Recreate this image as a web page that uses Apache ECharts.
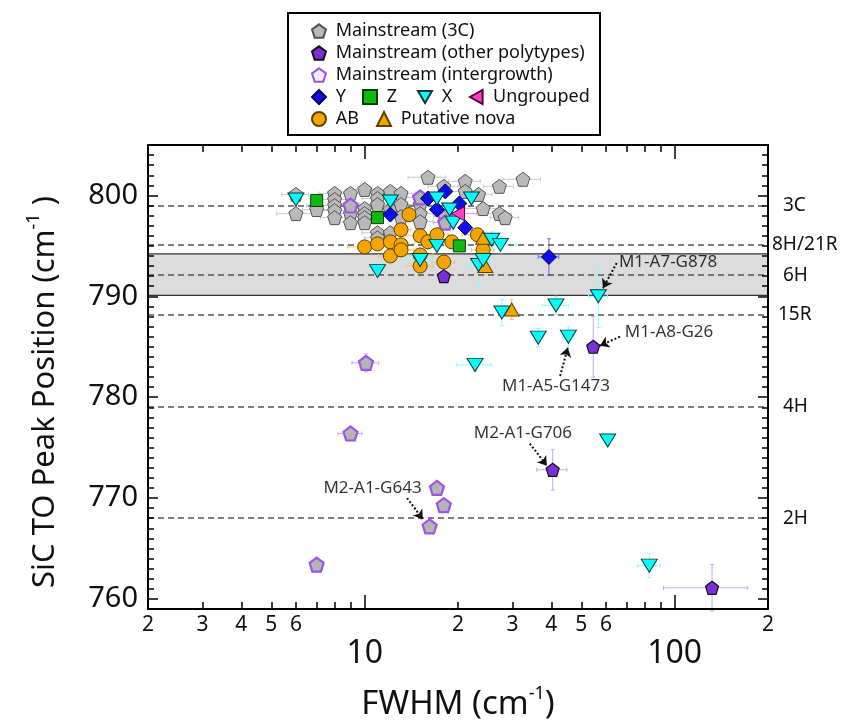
<!DOCTYPE html>
<html>
<head>
<meta charset="utf-8">
<title>SiC TO peak position vs FWHM</title>
<script src="https://cdn.jsdelivr.net/npm/echarts@6.0.0/dist/echarts.min.js"></script>
<style>
  html, body { margin: 0; padding: 0; background: #fff; }
  #chart { width: 847px; height: 721px; }
</style>
</head>
<body>
<div id="chart"></div>
<script>
// each point: [FWHM, peak position, FWHM error, position error]
var mainstream3C = [
  [6.0, 800.1, 0.6, 0], [6.0, 798.2, 0.8, 0], [7.0, 798.6, 0.7, 0],
  [8.0, 800.2, 0.9, 0], [8.0, 799.6, 1.2, 0], [8.0, 799.0, 1.5, 0], [8.0, 798.5, 0.9, 0], [8.0, 797.8, 0.8, 0],
  [9.0, 800.2, 1.0, 0], [9.0, 798.2, 1.2, 0], [9.0, 797.3, 0.8, 0],
  [10.0, 800.6, 1.3, 0], [10.0, 798.7, 1.2, 0], [10.0, 798.2, 1.0, 0], [10.0, 797.8, 1.0, 0], [10.0, 797.3, 1.0, 0],
  [11.0, 800.2, 1.3, 0], [11.0, 799.7, 1.2, 0], [11.0, 799.1, 1.4, 0], [11.0, 796.3, 1.2, 0], [11.0, 795.8, 1.0, 0],
  [12.1, 800.4, 1.4, 0], [12.1, 798.6, 1.0, 0], [12.1, 796.3, 1.3, 0],
  [13.1, 800.2, 1.5, 0], [13.1, 799.1, 1.5, 0], [13.1, 797.9, 1.3, 0],
  [15.1, 799.1, 1.6, 0], [15.1, 798.2, 1.5, 0], [15.1, 797.4, 1.5, 0],
  [16.0, 801.8, 2.2, 0], [18.0, 800.9, 2.0, 0], [21.1, 801.4, 2.5, 0], [21.1, 800.4, 2.0, 0],
  [23.3, 800.1, 2.5, 0], [27.2, 800.9, 3.0, 0], [32.4, 801.6, 4.5, 0],
  [24.1, 798.7, 3.0, 0], [27.2, 798.2, 2.5, 0], [28.4, 797.8, 3.0, 0]
];
var mainstreamOther = [
  [18.0, 792.0, 0, 0], [54.6, 785.0, 1.5, 3.0], [40.4, 772.8, 4.5, 2.0], [132, 761.1, 40, 2.3]
];
var mainstreamInter = [
  [9.0, 799.0, 0.8, 0], [15.1, 799.8, 1.5, 0], [18.2, 797.9, 1.5, 0], [18.2, 797.3, 1.5, 0],
  [10.1, 783.4, 1.0, 0.9], [9.0, 776.4, 0.8, 0], [17.1, 771.0, 0, 0], [18.0, 769.3, 0, 0],
  [16.2, 767.2, 0, 0], [7.0, 763.4, 0, 0]
];
var groupY = [
  [16.0, 799.7, 0, 0], [18.2, 800.4, 0, 0], [20.2, 799.2, 0, 0], [17.1, 798.6, 0, 0],
  [21.1, 796.8, 0, 0], [12.1, 798.1, 0, 0], [39.3, 793.9, 3.0, 1.8]
];
var groupZ = [[7.0, 799.5, 0, 0], [11.0, 797.8, 0, 0], [20.2, 795.0, 0, 0]];
var groupX = [
  [6.0, 799.6, 0, 0], [12.1, 799.4, 0, 0], [17.1, 799.7, 0, 0], [22.1, 799.7, 0, 0],
  [18.8, 798.6, 0, 0], [19.3, 797.3, 0, 0], [17.1, 795.0, 1.5, 0], [25.7, 795.6, 2.0, 0.8],
  [27.4, 795.1, 3.5, 0.8], [15.1, 793.6, 1.5, 1.5], [23.3, 793.1, 2.0, 2.0], [24.1, 793.6, 1.5, 0],
  [11.0, 792.5, 0, 0], [27.7, 788.4, 0, 1.3], [56.7, 790.0, 4.0, 3.1], [41.4, 789.1, 4.0, 0.9],
  [36.3, 785.9, 0, 0.9], [45.4, 786.0, 2.0, 1.0], [22.7, 783.2, 2.9, 0.6], [60.8, 775.7, 0, 0],
  [82.8, 763.3, 7.0, 1.2]
];
var ungrouped = [[20.0, 798.2, 3.0, 0]];
var groupAB = [
  [10.0, 794.9, 1.2, 0], [11.0, 795.2, 1.2, 0], [12.1, 795.4, 1.2, 0], [13.1, 795.1, 1.2, 0],
  [12.1, 794.0, 1.0, 0], [13.1, 794.6, 1.3, 0], [13.1, 796.6, 1.0, 0], [13.9, 798.1, 1.2, 0],
  [15.1, 796.0, 1.5, 0], [15.1, 794.1, 1.5, 0], [15.1, 793.0, 1.5, 1.0], [16.0, 795.4, 1.5, 0],
  [17.1, 796.1, 1.5, 0], [18.0, 793.4, 1.5, 0], [19.1, 795.4, 1.8, 0], [23.1, 796.1, 2.5, 0],
  [24.1, 794.6, 2.0, 0.7]
];
var putativeNova = [[24.1, 795.8, 2.0, 0], [24.5, 793.0, 0, 0.8], [29.8, 788.7, 0, 1.0]];

// polytype reference lines and 6H band
var refNames = ['3C', '8H/21R', '6H', '15R', '4H', '2H'];
var refValues = [799.0, 795.1, 792.1, 788.2, 779.1, 768.0];
var band6H = [790.1, 794.2];

// annotated grains
var annoNames = ['M1-A7-G878', 'M1-A8-G26', 'M1-A5-G1473', 'M2-A1-G706', 'M2-A1-G643'];
var annoText = [[95.2, 793.4], [95.9, 786.4], [41.4, 781.1], [32.4, 776.4], [10.6, 771.0]];
var annoFrom = [[65.0, 793.3], [66.6, 786.0], [42.7, 782.1], [34.1, 775.4], [13.7, 770.0]];
var annoTo = [[58.7, 790.8], [57.4, 785.1], [45.2, 784.9], [38.7, 773.2], [15.4, 767.9]];

// axis ticks
var xTicks = [2, 3, 4, 5, 6, 7, 8, 9, 10, 20, 30, 40, 50, 60, 70, 80, 90, 100, 200];
var xMajor = [10, 100];
var xLabelValues = [2, 3, 4, 5, 6, 10, 20, 30, 40, 50, 60, 100, 200];
var xLabelTexts = ['2', '3', '4', '5', '6', '10', '2', '3', '4', '5', '6', '100', '2'];
var yLabels = [760, 770, 780, 790, 800];
var yMin = 759, yMax = 805;
var yMinor = [];
for (var v = yMin; v <= yMax; v++) yMinor.push(v);

var FONT = 'Noto Sans';
var lg = function (v) { return Math.log10(v); };
var PENTAGON = 'path://M0,-10 L9.51,-3.09 L5.88,8.09 L-5.88,8.09 L-9.51,-3.09 Z';
var DOWN_TRI = 'path://M-10,-8 L10,-8 L0,9 Z';
var LEFT_TRI = 'path://M9,-10 L9,10 L-9,0 Z';

var chart = echarts.init(document.getElementById('chart'));

function pointSeries(name, pts, symbol, size, fill, stroke, lw) {
  return {
    name: name, type: 'scatter', xAxisIndex: 0, yAxisIndex: 0,
    symbol: symbol, symbolSize: size, z: 5,
    data: pts.map(function (p) { return [p[0], p[1]]; }),
    itemStyle: { color: fill, borderColor: stroke, borderWidth: lw, opacity: 1 },
    emphasis: { disabled: true }
  };
}

function errorSeries(pts, color) {
  return {
    type: 'custom', xAxisIndex: 0, yAxisIndex: 0, z: 3, silent: true,
    data: pts.filter(function (p) { return p[2] > 0 || p[3] > 0; }),
    encode: { x: 0, y: 1 },
    renderItem: function (params, api) {
      var x = api.value(0), y = api.value(1), ex = api.value(2), ey = api.value(3);
      var st = { stroke: color, lineWidth: 1 };
      var els = [];
      function seg(a, b) {
        els.push({ type: 'line', shape: { x1: a[0], y1: a[1], x2: b[0], y2: b[1] }, style: st });
      }
      if (ex > 0) {
        var a = api.coord([Math.max(x - ex, 2.01), y]), b = api.coord([x + ex, y]);
        seg(a, b);
        seg([a[0], a[1] - 2], [a[0], a[1] + 2]);
        seg([b[0], b[1] - 2], [b[0], b[1] + 2]);
      }
      if (ey > 0) {
        var c = api.coord([x, y - ey]), d = api.coord([x, y + ey]);
        seg(c, d);
        seg([c[0] - 2, c[1]], [c[0] + 2, c[1]]);
        seg([d[0] - 2, d[1]], [d[0] + 2, d[1]]);
      }
      return { type: 'group', children: els };
    }
  };
}

function xTickAxis(pos, ticks, len, showLine, showLabels) {
  return {
    type: 'value', position: pos, min: lg(2), max: lg(200), z: 10,
    axisLine: { show: showLine, lineStyle: { color: '#000', width: 2 } },
    axisTick: { show: true, inside: true, length: len, customValues: ticks.map(lg),
      lineStyle: { color: '#000', width: 1.5 } },
    axisLabel: showLabels ? {
      show: true, customValues: xLabelValues.map(lg), margin: 6,
      showMinLabel: true, showMaxLabel: true,
      fontFamily: FONT, fontSize: 21, color: '#111',
      formatter: function (val) {
        for (var i = 0; i < xLabelValues.length; i++) {
          if (Math.abs(lg(xLabelValues[i]) - val) < 1e-6) {
            return xMajor.indexOf(xLabelValues[i]) >= 0 ? '{big|' + xLabelTexts[i] + '}' : xLabelTexts[i];
          }
        }
        return '';
      },
      rich: { big: { fontFamily: FONT, fontSize: 32, color: '#111', padding: [23, 0, 0, 0] } }
    } : { show: false },
    splitLine: { show: false }
  };
}

function yTickAxis(pos, ticks, len, showLine, showLabels) {
  return {
    type: 'value', position: pos, min: yMin, max: yMax, z: 10,
    axisLine: { show: showLine, lineStyle: { color: '#000', width: 2 } },
    axisTick: { show: true, inside: true, length: len, customValues: ticks,
      lineStyle: { color: '#000', width: 1.5 } },
    axisLabel: showLabels ? {
      show: true, customValues: yLabels, margin: 10,
      fontFamily: FONT, fontSize: 29, color: '#111'
    } : { show: false },
    splitLine: { show: false }
  };
}

// legend rows: [series name, icon centre x, row centre y]
var legendPos = [
  ['Mainstream (3C)', 318, 31], ['Mainstream (other polytypes)', 318, 53],
  ['Mainstream (intergrowth)', 318, 75], ['Y', 318, 97], ['Z', 369, 97],
  ['X', 424, 97], ['Ungrouped', 476, 97], ['AB', 318, 119], ['Putative nova', 383, 119]
];
var legends = legendPos.map(function (l) {
  var lgd = {
    data: [l[0]], left: l[1] - 7, top: l[2] - 9, padding: 0,
    itemWidth: 14, itemHeight: 14, selectedMode: false,
    formatter: ' {name}',
    textStyle: { fontFamily: FONT, fontSize: 18, color: '#111' }
  };
  if (l[0] === 'Mainstream (intergrowth)') lgd.itemStyle = { color: '#f3ecff' };
  return lgd;
});

var refLabelGap = [15, 4, 15, 10, 15, 15];

var series = [
  {
    name: 'refs', type: 'line', data: [], z: 1, silent: true,
    markArea: {
      silent: true,
      itemStyle: { color: '#dcdcdc', borderColor: '#333', borderWidth: 1.2 },
      data: [[{ yAxis: band6H[0] }, { yAxis: band6H[1] }]]
    },
    markLine: {
      silent: true, symbol: 'none',
      lineStyle: { color: '#555', type: [6, 4], width: 1.5 },
      data: refNames.map(function (n, i) {
        return {
          yAxis: refValues[i], name: n,
          label: { show: true, position: 'end', distance: refLabelGap[i], formatter: n,
            fontFamily: FONT, fontSize: 19, color: '#111' }
        };
      })
    }
  },
  errorSeries(mainstream3C, '#c8c8c8'),
  errorSeries(mainstreamInter, '#c9a6f0'),
  errorSeries(mainstreamOther, '#c9a6f0'),
  errorSeries(groupAB, '#f7c36a'),
  errorSeries(putativeNova, '#f7c36a'),
  errorSeries(groupY, '#6a6af5'),
  errorSeries(groupX, '#80ffff'),
  errorSeries(ungrouped, '#ff8ad8'),
  pointSeries('Mainstream (3C)', mainstream3C, PENTAGON, 14, '#b9b9b9', '#555', 1),
  pointSeries('Mainstream (intergrowth)', mainstreamInter, PENTAGON, 14, '#b4b4b4', '#9b55e8', 2.2),
  pointSeries('Mainstream (other polytypes)', mainstreamOther, PENTAGON, 13, '#7c2fd8', '#111', 1.2),
  pointSeries('AB', groupAB, 'circle', 14, '#f5a400', '#5a4400', 1),
  pointSeries('Putative nova', putativeNova, 'triangle', [15, 13], '#f5a400', '#5a4400', 1),
  pointSeries('Z', groupZ, 'rect', 12, '#12b812', '#064006', 1),
  pointSeries('Y', groupY, 'diamond', 15, '#0d0df0', '#000050', 1),
  pointSeries('X', groupX, DOWN_TRI, [16, 13], '#00ffff', '#0a3a3a', 1),
  pointSeries('Ungrouped', ungrouped, LEFT_TRI, [13, 14], '#ff3fc8', '#5a0040', 1),
  {
    name: 'annotations', type: 'scatter', z: 6, silent: true,
    symbol: 'circle', symbolSize: 1, itemStyle: { color: 'transparent' },
    data: annoNames.map(function (n, i) { return { name: n, value: annoText[i] }; }),
    label: { show: true, position: 'inside', formatter: '{b}',
      fontFamily: FONT, fontSize: 17, color: '#000' },
    markLine: {
      silent: true, symbol: ['none', 'arrow'], symbolSize: 9,
      lineStyle: { color: '#111', type: [2, 2], width: 2 },
      label: { show: false },
      data: annoFrom.map(function (f, i) { return [{ coord: f }, { coord: annoTo[i] }]; })
    }
  }
];

var option = {
  animation: false,
  textStyle: { fontFamily: FONT },
  grid: { left: 148, right: 79, top: 145, bottom: 112, containLabel: false },
  legend: legends,
  xAxis: [
    { type: 'log', logBase: 10, min: 2, max: 200, position: 'bottom', z: 10,
      axisLine: { show: true, lineStyle: { color: '#000', width: 2 } },
      axisTick: { show: false }, axisLabel: { show: false }, splitLine: { show: false } },
    xTickAxis('bottom', xTicks, 7, false, true),
    xTickAxis('bottom', xMajor, 14, false, false),
    xTickAxis('top', xTicks, 7, true, false),
    xTickAxis('top', xMajor, 14, false, false)
  ],
  yAxis: [
    yTickAxis('left', yLabels, 10, true, true),
    yTickAxis('left', yMinor, 6, false, false),
    yTickAxis('right', yLabels, 10, true, false),
    yTickAxis('right', yMinor, 6, false, false)
  ],
  graphic: [
    { type: 'rect', z: 0, shape: { x: 288, y: 13, width: 312, height: 122 },
      style: { fill: 'none', stroke: '#000', lineWidth: 2 } },
    { type: 'text', x: 45, y: 392, rotation: Math.PI / 2,
      style: {
        text: '{a|SiC TO Peak Position (cm}{s|-1}{a| )}',
        rich: {
          a: { fontFamily: FONT, fontSize: 31, fill: '#111', lineHeight: 40 },
          s: { fontFamily: FONT, fontSize: 18, fill: '#111', verticalAlign: 'top', lineHeight: 18 }
        },
        align: 'center', verticalAlign: 'middle'
      } },
    { type: 'text', x: 458, y: 705,
      style: {
        text: '{a|FWHM (cm}{s|-1}{a|)}',
        rich: {
          a: { fontFamily: FONT, fontSize: 33, fill: '#111', lineHeight: 40 },
          s: { fontFamily: FONT, fontSize: 18, fill: '#111', verticalAlign: 'top', lineHeight: 18 }
        },
        align: 'center', verticalAlign: 'middle'
      } }
  ],
  series: series
};

chart.setOption(option);
</script>
</body>
</html>
